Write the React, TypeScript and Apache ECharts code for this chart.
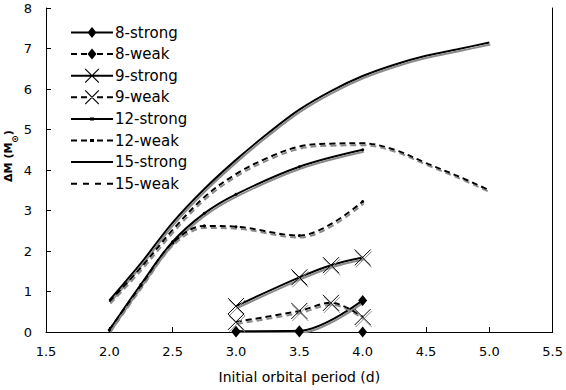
import React, { useEffect, useRef } from "react";
import * as echarts from "echarts";

// ---- data ----
const xTicks = ["1.5", "2.0", "2.5", "3.0", "3.5", "4.0", "4.5", "5.0", "5.5"];
const yTicks = ["0", "1", "2", "3", "4", "5", "6", "7", "8"];

const x8 = [3.0, 3.5, 4.0];
const y8strong = [0.02, 0.03, 0.78];
const y8weak = [0.0, 0.0, 0.0];

const x9 = [3.0, 3.5, 3.75, 4.0];
const y9strong = [0.64, 1.35, 1.65, 1.84];
const y9weak = [0.25, 0.52, 0.72, 0.37];

const x12 = [2.0, 2.25, 2.5, 2.75, 3.0, 3.5, 4.0];
const y12strong = [0.05, 1.18, 2.23, 2.93, 3.4, 4.08, 4.5];
const y12weak = [0.05, 1.15, 2.2, 2.62, 2.6, 2.38, 3.22];

const x15 = [2.0, 2.25, 2.5, 2.75, 3.0, 3.25, 3.5, 3.75, 4.0, 4.25, 4.5, 4.75, 5.0];
const y15strong = [0.78, 1.7, 2.7, 3.53, 4.25, 4.9, 5.49, 5.95, 6.32, 6.6, 6.82, 6.98, 7.15];
const y15weak = [0.75, 1.59, 2.52, 3.33, 3.9, 4.3, 4.58, 4.65, 4.66, 4.5, 4.17, 3.85, 3.5];

const seriesNames = [
  "8-strong", "8-weak", "9-strong", "9-weak",
  "12-strong", "12-weak", "15-strong", "15-weak",
];

const FONT = "DejaVu Sans";
const CROSS = "path://M0,0L16,16M16,0L0,16";

// legend sample icons, drawn in a 42 x 14 box
const CORNERS = "M0,0L0.01,0L0,0.01Z M42,14L41.99,14L42,13.99Z ";
const SOLID = "M0,6H42V8H0Z ";
const DASH_MARK = "M0,6H6V8H0Z M10,6H16V8H10Z M26,6H32V8H26Z M36,6H42V8H36Z ";
const DASH_4 = "M0,6H6V8H0Z M12,6H18V8H12Z M24,6H30V8H24Z M36,6H42V8H36Z ";
const DIAMOND = "M21,1.5L25.5,7L21,12.5L16.5,7Z ";
const XMARK =
  "M14,0L14.8,0L28,13.2L28,14L27.2,14L14,0.8Z M28,0L28,0.8L14.8,14L14,14L14,13.2L27.2,0Z ";
const DOT = "M19,5.5H23V8.5H19Z ";
const DOT_DASH = "M19,6H23V8H19Z ";

const legendIcons: Record<string, string> = {
  "8-strong": "path://" + CORNERS + SOLID + DIAMOND,
  "8-weak": "path://" + CORNERS + DASH_MARK + DIAMOND,
  "9-strong": "path://" + CORNERS + SOLID + XMARK,
  "9-weak": "path://" + CORNERS + DASH_MARK + XMARK,
  "12-strong": "path://" + CORNERS + SOLID + DOT,
  "12-weak": "path://" + CORNERS + DASH_MARK + DOT_DASH + DOT,
  "15-strong": "path://" + CORNERS + SOLID,
  "15-weak": "path://" + CORNERS + DASH_4,
};

function pairs(xs: number[], ys: number[]) {
  return xs.map((x, i) => [x, ys[i]]);
}

export default function App() {
  const ref = useRef<HTMLDivElement>(null);

  useEffect(() => {
    if (!ref.current) return;
    const chart = echarts.init(ref.current, null, { renderer: "svg" });

    const shadow = {
      shadowColor: "#8a8a8a",
      shadowBlur: 0,
      shadowOffsetX: 1,
      shadowOffsetY: 2,
    };

    const mk = (
      name: string,
      xs: number[],
      ys: number[],
      dashed: boolean,
      symbol: string,
      symbolSize: number | number[],
      kind: "fill" | "stroke" | "none"
    ) => ({
      name,
      type: "line",
      data: pairs(xs, ys),
      smooth: 0.35,
      symbol,
      symbolSize,
      showSymbol: symbol !== "none",
      lineStyle: {
        color: "#000",
        width: 2,
        type: dashed ? [6, 4] : "solid",
        ...shadow,
      },
      itemStyle:
        kind === "stroke"
          ? { color: "rgba(0,0,0,0)", borderColor: "#000", borderWidth: 1, ...shadow }
          : { color: "#000", borderColor: "#000", borderWidth: 0 },
      emphasis: { disabled: true },
      z: 3,
    });

    const option: any = {
      animation: false,
      backgroundColor: "#fff",
      textStyle: { fontFamily: FONT },
      grid: { left: 46, right: 13, top: 8, bottom: 58, containLabel: false },
      legend: {
        orient: "vertical",
        left: 71,
        top: 25,
        padding: 0,
        itemWidth: 42,
        itemHeight: 14,
        itemGap: 6.6,
        selectedMode: false,
        itemStyle: {
          color: "#000",
          borderWidth: 0,
          borderColor: "rgba(0,0,0,0)",
          shadowColor: "rgba(0,0,0,0)",
          shadowBlur: 0,
          shadowOffsetX: 0,
          shadowOffsetY: 0,
        },
        textStyle: {
          fontFamily: FONT,
          fontSize: 15,
          lineHeight: 14,
          color: "#000",
          padding: [0, 0, 0, -3],
        },
        data: seriesNames.map((n) => ({ name: n, icon: legendIcons[n] })),
      },
      xAxis: {
        type: "value",
        min: 1.5,
        max: 5.5,
        interval: 0.5,
        axisLine: { show: true, lineStyle: { color: "#000", width: 1 } },
        axisTick: { show: true, inside: true, length: 5, lineStyle: { color: "#000" } },
        splitLine: { show: false },
        axisLabel: {
          color: "#000",
          fontFamily: FONT,
          fontSize: 13,
          margin: 13,
          formatter: (v: number) => xTicks[Math.round((v - 1.5) / 0.5)] ?? "",
        },
        name: "Initial orbital period (d)",
        nameLocation: "middle",
        nameGap: 38,
        nameTextStyle: { color: "#000", fontFamily: FONT, fontSize: 14 },
      },
      yAxis: [
        {
          type: "value",
          min: 0,
          max: 8,
          interval: 1,
          axisLine: { show: true, lineStyle: { color: "#000", width: 1 } },
          axisTick: { show: true, inside: true, length: 5, lineStyle: { color: "#000" } },
          splitLine: { show: false },
          axisLabel: {
            color: "#000",
            fontFamily: FONT,
            fontSize: 13,
            margin: 14,
            formatter: (v: number) => yTicks[Math.round(v)] ?? "",
          },
        },
        {
          type: "value",
          position: "right",
          min: 0,
          max: 8,
          interval: 1,
          axisLine: { show: true, lineStyle: { color: "#000", width: 1 } },
          axisTick: { show: false },
          axisLabel: { show: false },
          splitLine: { show: false },
        },
      ],
      graphic: [
        {
          type: "text",
          x: 11,
          y: 156,
          rotation: Math.PI / 2,
          style: {
            text: "{b|ΔM (M}{s|⊙}{b|)}",
            align: "center",
            verticalAlign: "middle",
            rich: {
              b: { fontFamily: FONT, fontWeight: "bold", fontSize: 11, fill: "#000", verticalAlign: "top", lineHeight: 16 },
              s: { fontFamily: FONT, fontWeight: "bold", fontSize: 9, fill: "#000", verticalAlign: "bottom", lineHeight: 16 },
            },
          },
        },
      ],
      series: [
        mk("8-strong", x8, y8strong, false, "diamond", [9, 11], "fill"),
        mk("8-weak", x8, y8weak, true, "diamond", [9, 11], "fill"),
        mk("9-strong", x9, y9strong, false, CROSS, 16, "stroke"),
        mk("9-weak", x9, y9weak, true, CROSS, 16, "stroke"),
        mk("12-strong", x12, y12strong, false, "circle", 3, "fill"),
        mk("12-weak", x12, y12weak, true, "circle", 3, "fill"),
        mk("15-strong", x15, y15strong, false, "none", 0, "none"),
        mk("15-weak", x15, y15weak, true, "none", 0, "none"),
      ],
    };

    chart.setOption(option);
    return () => chart.dispose();
  }, []);

  return (
    <div
      ref={ref}
      style={{ position: "fixed", left: 0, top: 0, width: 566, height: 390, background: "#fff" }}
    />
  );
}
